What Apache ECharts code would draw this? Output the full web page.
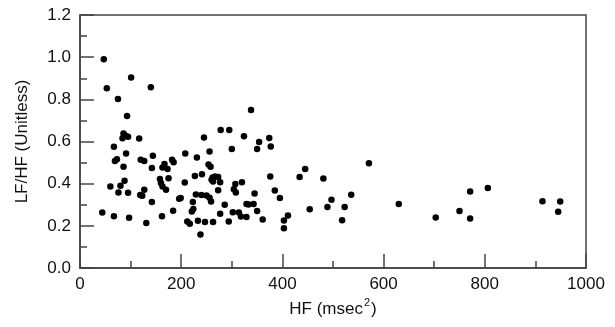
<!DOCTYPE html>
<html>
<head>
    <meta charset="utf-8">
    <title>LF/HF vs HF</title>
    <script src="https://cdn.jsdelivr.net/npm/echarts@6/dist/echarts.min.js"></script>
    <style>
        html, body { margin: 0; padding: 0; background: #fff; }
        #main { width: 615px; height: 327px; }
    </style>
</head>
<body>
    <div id="main"></div>
    <script>
        // HF (msec^2) of each subject
        var hf = [
            47, 53, 101, 140, 75, 93, 338,
            278, 295, 245, 324, 117,
            86, 90, 84, 95,
            67, 91, 69, 73, 86, 120, 127, 144, 142,
            163, 167, 173, 182, 185, 208,
            60, 80, 88, 76, 95, 119, 123, 127,
            158, 160, 163, 170, 175, 207,
            196, 199, 142,
            44, 67, 97, 131, 162, 184, 212,
            354, 374, 377, 350, 300, 256, 231,
            254, 258, 227, 241,
            262, 267, 273, 260, 263, 277,
            307, 320, 304, 308, 273,
            229, 240, 250, 256, 345, 376, 385, 395,
            223, 224, 221, 217, 233, 247, 263, 238,
            259, 286, 277, 294, 302, 314, 318, 329,
            329, 333, 343, 350, 361, 403, 411, 403,
            571, 445, 434, 481, 454, 489, 497, 518, 523, 536,
            630, 703, 750, 771, 771, 806, 914, 949, 945
        ];
        // LF/HF ratio, same order
        var lfhf = [
            0.99, 0.853, 0.903, 0.857, 0.802, 0.721, 0.750,
            0.654, 0.654, 0.619, 0.625, 0.614,
            0.638, 0.627, 0.616, 0.622,
            0.575, 0.543, 0.508, 0.516, 0.480, 0.514, 0.508, 0.532, 0.474,
            0.477, 0.493, 0.469, 0.514, 0.502, 0.543,
            0.387, 0.390, 0.414, 0.358, 0.357, 0.346, 0.343, 0.371,
            0.422, 0.403, 0.387, 0.371, 0.426, 0.406,
            0.328, 0.332, 0.313,
            0.263, 0.245, 0.238, 0.213, 0.246, 0.271, 0.221,
            0.598, 0.617, 0.576, 0.564, 0.564, 0.552, 0.524,
            0.491, 0.480, 0.436, 0.445,
            0.429, 0.434, 0.432, 0.418, 0.410, 0.407,
            0.398, 0.407, 0.374, 0.358, 0.369,
            0.349, 0.346, 0.344, 0.333, 0.353, 0.434, 0.368, 0.332,
            0.313, 0.280, 0.268, 0.210, 0.224, 0.218, 0.218, 0.159,
            0.316, 0.300, 0.257, 0.221, 0.265, 0.263, 0.244, 0.242,
            0.303, 0.301, 0.303, 0.270, 0.230, 0.225, 0.249, 0.189,
            0.497, 0.470, 0.432, 0.425, 0.279, 0.289, 0.324, 0.227, 0.289, 0.347,
            0.303, 0.240, 0.270, 0.363, 0.235, 0.380, 0.317, 0.316, 0.267
        ];

        var points = hf.map(function (x, i) { return [x, lfhf[i]]; });

        var axisColor = '#444';
        var textColor = '#111';
        var font = 'Liberation Sans';
        var fs = 17;

        var chart = echarts.init(document.getElementById('main'));
        var option = {
            animation: false,
            grid: {
                left: 80, right: 29, top: 15, bottom: 59,
                show: true,
                borderColor: axisColor,
                borderWidth: 1.5
            },
            xAxis: {
                type: 'value',
                min: 0, max: 1000, interval: 200,
                name: '{a|HF (msec}{s|2}{a|)}',
                nameLocation: 'middle',
                nameGap: 28,
                nameTextStyle: {
                    fontFamily: font, fontSize: fs, color: textColor,
                    rich: {
                        a: { fontFamily: font, fontSize: fs, color: textColor, lineHeight: 20, verticalAlign: 'bottom' },
                        s: { fontFamily: font, fontSize: 11, color: textColor, lineHeight: 20, verticalAlign: 'top', padding: [0, 1, 0, 1] }
                    }
                },
                splitLine: { show: false },
                axisLine: { lineStyle: { color: axisColor, width: 1.5 } },
                axisTick: { inside: true, length: 14, lineStyle: { color: axisColor, width: 1.5 } },
                minorTick: { show: true, splitNumber: 2, length: 7, lineStyle: { color: axisColor, width: 1.5 } },
                axisLabel: {
                    fontFamily: font, fontSize: fs, color: textColor, margin: 8,
                    formatter: function (v) { return String(v); }
                }
            },
            yAxis: {
                type: 'value',
                min: 0, max: 1.2, interval: 0.2,
                name: 'LF/HF (Unitless)',
                nameLocation: 'middle',
                nameGap: 49,
                nameTextStyle: { fontFamily: font, fontSize: fs, color: textColor },
                splitLine: { show: false },
                axisLine: { lineStyle: { color: axisColor, width: 1.5 } },
                axisTick: { inside: true, length: 14, lineStyle: { color: axisColor, width: 1.5 } },
                minorTick: { show: true, splitNumber: 2, length: 7, lineStyle: { color: axisColor, width: 1.5 } },
                axisLabel: {
                    fontFamily: font, fontSize: fs, color: textColor, margin: 9,
                    formatter: function (v) { return v.toFixed(1); }
                }
            },
            series: [{
                type: 'scatter',
                data: points,
                symbolSize: 6.5,
                itemStyle: { color: '#000', opacity: 1 }
            }]
        };
        chart.setOption(option);
    </script>
</body>
</html>
